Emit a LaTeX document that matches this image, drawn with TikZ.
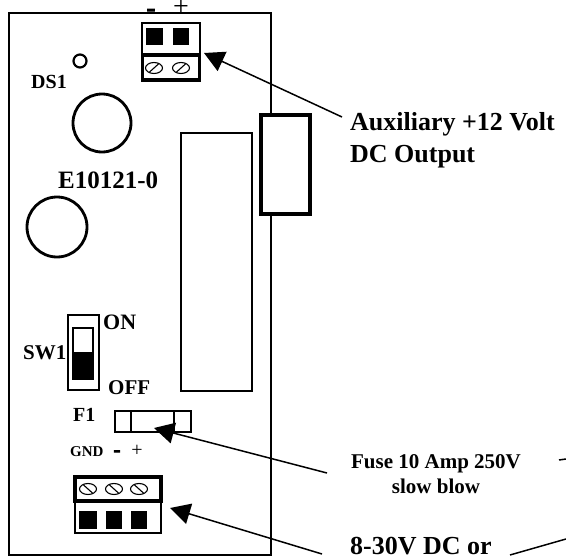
\documentclass[tikz,border=0pt]{standalone}
\usepackage{fontspec}
\setmainfont{Liberation Serif}
\newfontfamily\heavyhy[FakeBold=5]{Liberation Serif}
\usetikzlibrary{arrows.meta}
\tikzset{
  px/.style={x=1pt,y=-1pt},
  lab/.style={font=\bfseries\fontsize{#1}{#1}\selectfont,inner sep=0pt,anchor=base west,text=black},
  lab/.default=26,
  reg/.style={font=\fontsize{#1}{#1}\selectfont,inner sep=0pt,anchor=base,text=black},
  hy/.style={font=\heavyhy\fontsize{#1}{#1}\selectfont,inner sep=0pt,anchor=base,text=black},
  part/.style={draw=black,line width=2.2pt},
  heavy/.style={draw=black,line width=3.4pt},
  pin/.style={fill=black,draw=none},
  ring/.style={draw=black,line width=2.8pt},
  lead/.style={draw=black,line width=1.5pt,-{Triangle[length=20pt,width=21pt]}},
  tail/.style={draw=black,line width=1.5pt}
}
\newcommand{\screwf}[2]{\draw[line width=1.1pt] (#1,#2) ellipse [x radius=8.5pt,y radius=5.5pt];\draw[line width=1.1pt] (#1-5,#2+4.5) -- (#1+5,#2-4.5);}
\newcommand{\screwb}[2]{\draw[line width=1.1pt] (#1,#2) ellipse [x radius=8.5pt,y radius=5.5pt];\draw[line width=1.1pt] (#1-5,#2-4.5) -- (#1+5,#2+4.5);}
\begin{document}
\begin{tikzpicture}[px]
\useasboundingbox (0,0) rectangle (566,557);
% top labels sit under the board line
\node[hy=25] at (151,16) (minus) {-};
\node[reg=28] at (181,15) (plus) {+};
\draw[part] (9,13) rectangle (271,555);
% auxiliary terminal
\draw[part] (142,23) rectangle (200,55);
\draw[heavy] (142.5,55) rectangle (199.5,80);
\fill[pin] (146,28) rectangle (163,45);
\fill[pin] (173,28) rectangle (189,45);
\screwf{154}{68}\screwf{181}{68}
% LED and round parts
\draw[line width=2.2pt] (80,61) circle [radius=6.5];
\node[lab=20] at (31,88) (ds) {DS1};
\draw[ring] (102,123) circle [radius=29];
\draw[ring] (57,227) circle [radius=30];
\node[lab=25] at (58,188) (e) {E10121-0};
% module
\draw[part] (181,133) rectangle (252,391);
\draw[heavy,fill=white] (261,115) rectangle (310,214);
% switch
\draw[part] (68,315) rectangle (99,390);
\draw[part] (73,328) rectangle (93,379);
\fill[pin] (72,352) rectangle (94,380);
\node[lab=22] at (103,329) (on) {ON};
\node[lab=21] at (108,394) (off) {OFF};
\node[lab=21] at (23,359) (sw) {SW1};
\node[lab=20] at (73,421) (f) {F1};
% fuse
\draw[part] (115,411) rectangle (191,432);
\draw[part] (131,411) -- (131,432) (174,411) -- (174,432);
\node[lab=15] at (70,456) (gnd) {GND};
\node[hy=20] at (117,456) (gm) {-};
\node[reg=20] at (137,456) (gp) {+};
% input terminal
\draw[heavy] (75,477) rectangle (161,501);
\draw[part] (75,501) rectangle (161,533);
\screwb{88}{489}\screwb{114}{489}\screwb{139}{489}
\fill[pin] (79,511) rectangle (97,529);
\fill[pin] (106,511) rectangle (122,529);
\fill[pin] (131,511) rectangle (147,529);
% captions
\node[lab] at (350,130) (aux1) {Auxiliary +12 Volt};
\node[lab] at (350,162) (aux2) {DC Output};
\node[lab=21,anchor=base] at (436,468) (fuse1) {Fuse 10 Amp 250V};
\node[lab=21,anchor=base] at (436,493) (fuse2) {slow blow};
\node[lab] at (350,554) (in) {8-30V DC or};
% connectors
\coordinate (a1) at (342,117); \coordinate (a2) at (204,53);
\coordinate (b1) at (327,473); \coordinate (b2) at (154,428);
\coordinate (c1) at (322,554); \coordinate (c2) at (170,508);
\draw[lead] (a1) -- (a2);
\draw[lead] (b1) -- (b2);
\draw[lead] (c1) -- (c2);
\coordinate (d1) at (510,555); \coordinate (d2) at (566,539);
\coordinate (e1) at (559,460); \coordinate (e2) at (566,459);
\draw[tail] (d1) -- (d2);
\draw[tail] (e1) -- (e2);
\end{tikzpicture}
\end{document}
